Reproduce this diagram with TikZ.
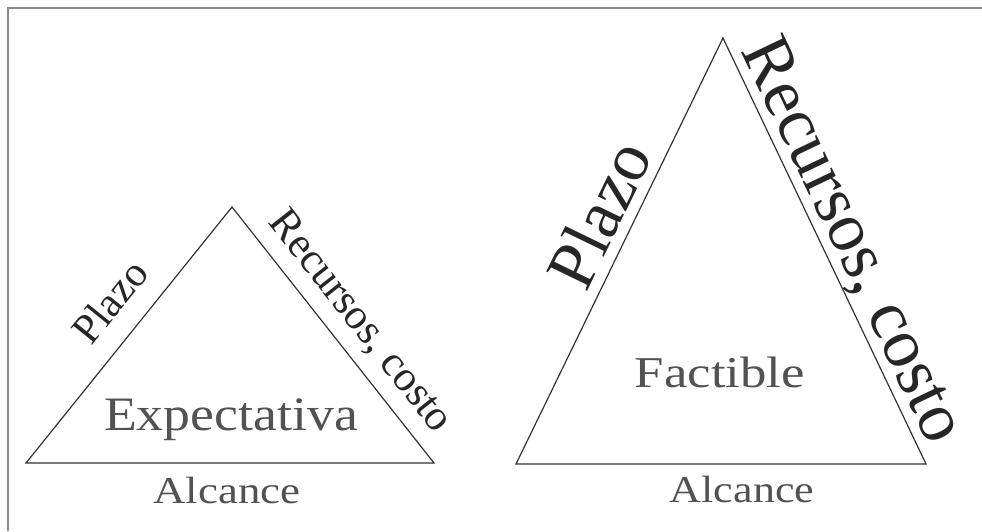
\documentclass[tikz,border=0pt]{standalone}
\usepackage{fontspec}
\setmainfont{Liberation Serif}
\begin{document}
\begin{tikzpicture}[x=1pt,y=-1pt,
  edge/.style={draw=black!80, line width=1.2pt, line join=miter},
  frame/.style={draw=black!45, line width=1.4pt},
  flat/.style={text=black!68, inner sep=0pt, anchor=base},
  side/.style={text=black!85, inner sep=0pt},
]
\useasboundingbox (0,0) rectangle (982,531);
% page frame (top and left rules)
\draw[frame] (8,531) -- (8,8) -- (982,8);

% small triangle: expectation
\coordinate (la) at (26,463);
\coordinate (lb) at (232,207);
\coordinate (lc) at (434,463);
\draw[edge] (la) -- (lb) -- (lc) -- cycle;
\node[side, rotate=51.2, font=\fontsize{42}{42}\selectfont] (lplazo) at (110,301) {Plazo};
\node[side, rotate=-51.7, font=\fontsize{43}{43}\selectfont] (lrec) at (360,322) {Recursos, costo};
\node[flat, font=\fontsize{48}{48}\selectfont] (lexp) at (231,430) {\scalebox{1.12}[1]{Expectativa}};
\node[flat, font=\fontsize{38}{38}\selectfont] (lalc) at (227,503) {\scalebox{1.18}[1]{Alcance}};

% large triangle: feasible
\coordinate (ra) at (516,464);
\coordinate (rb) at (723,38);
\coordinate (rc) at (926,464);
\draw[edge] (ra) -- (rb) -- (rc) -- cycle;
\node[side, rotate=64.1, font=\fontsize{69}{69}\selectfont] (rplazo) at (599,214) {Plazo};
\node[side, rotate=-64.5, font=\fontsize{70}{70}\selectfont] (rrec) at (851,241) {Recursos, costo};
\node[flat, font=\fontsize{44}{44}\selectfont] (rfac) at (720,387) {\scalebox{1.2}[1]{Factible}};
\node[flat, font=\fontsize{38}{38}\selectfont] (ralc) at (742,502) {\scalebox{1.16}[1]{Alcance}};
\end{tikzpicture}
\end{document}
